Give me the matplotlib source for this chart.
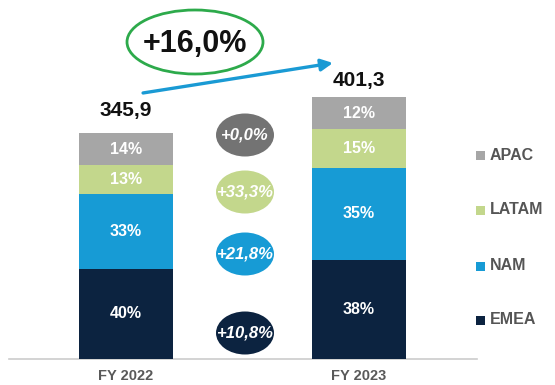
import matplotlib.pyplot as plt
from matplotlib.patches import Ellipse, Rectangle

plt.rcParams["font.family"] = ["Liberation Sans", "DejaVu Sans"]

# revenue by fiscal year and regional split (%)
years = ["FY 2022", "FY 2023"]
totals = [345.9, 401.3]
regions = ["EMEA", "NAM", "LATAM", "APAC"]
shares = {
    "EMEA": [40, 38],
    "NAM": [33, 35],
    "LATAM": [13, 15],
    "APAC": [14, 12],
}
growth = {"EMEA": "+10,8%", "NAM": "+21,8%", "LATAM": "+33,3%", "APAC": "+0,0%"}
total_growth = "+16,0%"

bar_colors = {"EMEA": "#0c2340", "NAM": "#179bd5", "LATAM": "#c3d78c", "APAC": "#a6a6a6"}
bubble_colors = {"EMEA": "#0c2340", "NAM": "#179bd5", "LATAM": "#c3d78c", "APAC": "#737373"}

W, H = 555, 385
fig = plt.figure(figsize=(W / 100, H / 100), dpi=100)
ax = fig.add_axes([0, 0, 1, 1])
ax.set_xlim(-0.541, 1.841)
ax.set_ylim(-39.9, 550.6)
ax.axis("off")

xs = [0, 1]
bottoms = [0.0, 0.0]
for reg in regions:
    vals = [t * s / 100 for t, s in zip(totals, shares[reg])]
    ax.bar(xs, vals, width=0.4, bottom=bottoms, color=bar_colors[reg], zorder=2)
    for x, b, v, s in zip(xs, bottoms, vals, shares[reg]):
        ax.text(x, b + v / 2, f"{s}%", ha="center", va="center", color="white",
                fontsize=11.5, fontweight="bold", zorder=3)
    bottoms = [b + v for b, v in zip(bottoms, vals)]

# totals on top of the stacks
for x, t, pad in zip(xs, totals, [10, 5]):
    ax.annotate(f"{t:.1f}".replace(".", ","), (x, t), xytext=(0, pad),
                textcoords="offset points", ha="center", va="bottom",
                fontsize=15, fontweight="bold", color="#111111")

# baseline and category labels
ax.axhline(0, xmin=9 / W, xmax=477 / W, color="#cccccc", lw=1.2, zorder=1)
for x, name in zip(xs, years):
    ax.annotate(name, (x, 0), xytext=(0, -7), textcoords="offset points",
                ha="center", va="top", fontsize=10.5, fontweight="bold", color="#595959")

# growth bubbles between the bars
bubble_y = {"APAC": 135, "LATAM": 192, "NAM": 254, "EMEA": 333}
for reg in regions:
    cy = 1 - bubble_y[reg] / H
    ax.add_patch(Ellipse((245 / W, cy), 58 / W, 43 / H, transform=ax.transAxes,
                         facecolor=bubble_colors[reg], edgecolor="none", zorder=2))
    ax.text(245 / W, cy, growth[reg], transform=ax.transAxes, ha="center", va="center",
            color="white", fontsize=12, fontweight="bold", style="italic", zorder=3)

# overall growth arrow and callout
ax.annotate("", xy=(0.888, 454), xytext=(0.073, 408),
            arrowprops=dict(arrowstyle="-|>,head_length=0.7,head_width=0.35",
                            color="#1a9ad4", lw=2.4, shrinkA=0, shrinkB=0))
ax.add_patch(Ellipse((195 / W, 1 - 42 / H), 136 / W, 64 / H, transform=ax.transAxes,
                     facecolor="white", edgecolor="#2daa4b", lw=2.0, zorder=3))
ax.text(195 / W, 1 - 44 / H, total_growth, transform=ax.transAxes, ha="center",
        va="center", fontsize=22, fontweight="bold", color="#111111", zorder=4)

# legend
legend_y = {"APAC": 155, "LATAM": 210, "NAM": 266, "EMEA": 320}
for reg in regions:
    cy = 1 - legend_y[reg] / H
    ax.add_patch(Rectangle((476 / W, cy - 4.5 / H), 9 / W, 9 / H, transform=ax.transAxes,
                           facecolor=bar_colors[reg], edgecolor="none"))
    ax.text(490 / W, cy, reg, transform=ax.transAxes, ha="left", va="center",
            fontsize=11.5, fontweight="bold", color="#555555")

fig.savefig("out.png", dpi=100)
